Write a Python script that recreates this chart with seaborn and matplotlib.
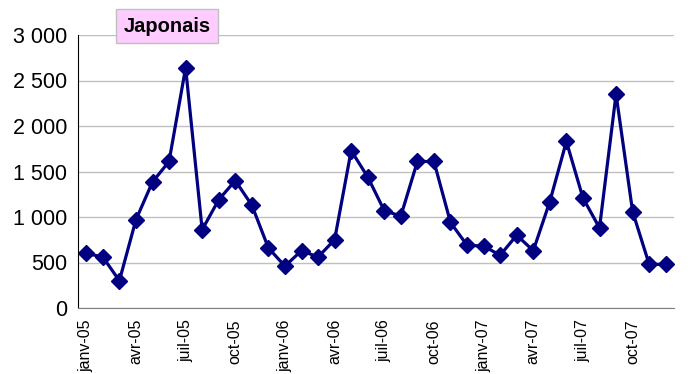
import matplotlib
matplotlib.use("Agg")
import matplotlib.pyplot as plt
import seaborn as sns
import pandas as pd
import numpy as np
from matplotlib.ticker import FuncFormatter, MultipleLocator

# mois de janv-05 à déc-07
mois = ["janv", "févr", "mars", "avr", "mai", "juin",
        "juil", "août", "sept", "oct", "nov", "déc"]
annees = ["05", "06", "07"]
categories = [f"{m}-{a}" for a in annees for m in mois]

valeurs = [600, 560, 300, 970, 1385, 1610, 2640, 860, 1190, 1400, 1130, 660,
           460, 630, 560, 750, 1730, 1440, 1070, 1010, 1610, 1610, 940, 690,
           680, 580, 800, 630, 1170, 1830, 1210, 880, 2350, 1060, 480, 480]

titre = "Japonais"

df = pd.DataFrame({"idx": np.arange(len(categories)), "mois": categories, "val": valeurs})

sns.set_style("white")
plt.rcParams["font.family"] = ["Liberation Sans", "DejaVu Sans"]
plt.rcParams["text.color"] = "black"
plt.rcParams["xtick.color"] = "black"
plt.rcParams["ytick.color"] = "black"

fig, ax = plt.subplots(figsize=(6.9, 3.74), dpi=100)
fig.subplots_adjust(left=78 / 690, right=674 / 690, top=1 - 35 / 374, bottom=1 - 308 / 374)

sns.lineplot(data=df, x="idx", y="val", ax=ax, color="#000080", linewidth=2.3,
             marker="D", markersize=8, markeredgecolor="#000080", markeredgewidth=1)

ax.set_xlim(-0.5, len(categories) - 0.5)
ax.set_ylim(0, 3000)
ax.yaxis.set_major_locator(MultipleLocator(500))
ax.yaxis.set_major_formatter(FuncFormatter(lambda v, p: f"{int(v):,}".replace(",", " ")))
ax.grid(axis="y", color="#C0C0C0", linewidth=1)
ax.set_axisbelow(True)

# étiquettes au centre des catégories, graduations aux bornes
pos = list(range(0, len(categories), 3))
ax.set_xticks(pos)
ax.set_xticklabels([categories[i] for i in pos], rotation=90, fontsize=11.5)
ax.set_xticks(np.arange(-0.5, len(categories)), minor=True)
ax.tick_params(axis="x", which="major", length=0, pad=8, labelcolor="black")
ax.tick_params(axis="x", which="minor", length=5, width=1, color="#808080", direction="out")
ax.tick_params(axis="y", length=5, width=1, color="black", direction="out",
               labelsize=15.5, pad=3, labelcolor="black")

ax.set_xlabel("")
ax.set_ylabel("")
sns.despine(ax=ax, top=True, right=True)
ax.spines["left"].set_color("black")
ax.spines["bottom"].set_color("#808080")

fig.text(167 / 690, 1 - 26 / 374, titre, ha="center", va="center", fontsize=14.5,
         fontweight="bold", color="black",
         bbox=dict(boxstyle="square,pad=0.38", facecolor="#FFCCFF", edgecolor="#C0C0C0"))

fig.savefig("out.png", dpi=100)
